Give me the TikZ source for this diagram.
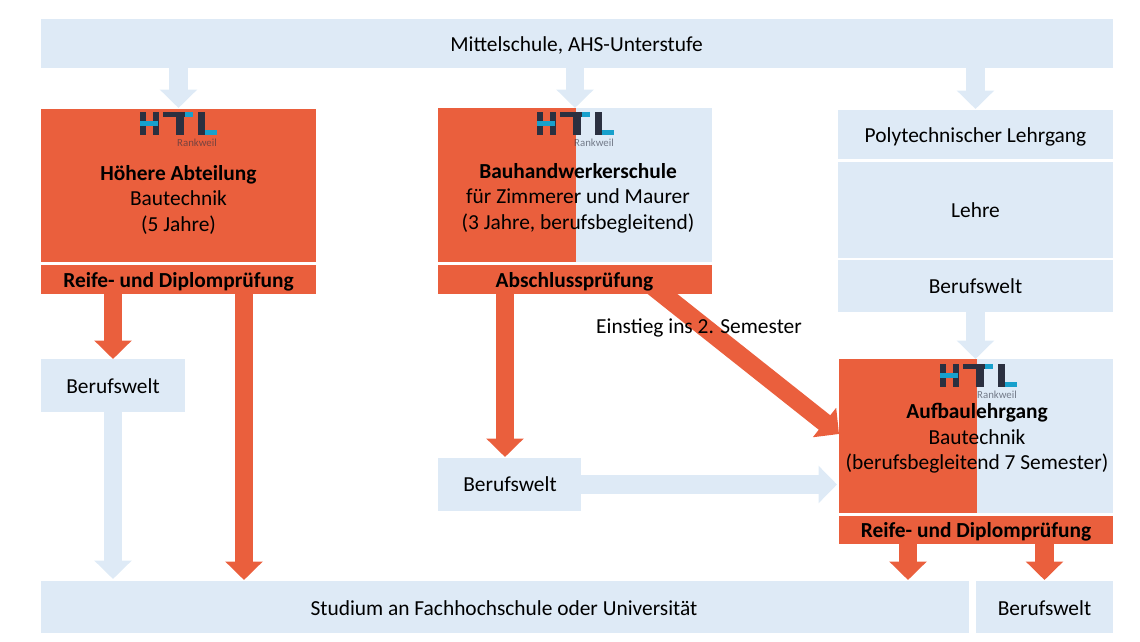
\documentclass[tikz,border=0pt]{standalone}
\usepackage{fontspec}
\setmainfont{Carlito}
\usetikzlibrary{arrows.meta,calc,backgrounds}
\definecolor{lightb}{HTML}{DEEAF6}
\definecolor{orng}{HTML}{EA5F3D}
\definecolor{logodark}{HTML}{2B3040}
\definecolor{logoblue}{HTML}{17A0CC}
\tikzset{
  x=1pt,y=-1pt,
  boxl/.style={fill=lightb,inner sep=0pt,outer sep=0pt},
  boxo/.style={fill=orng,inner sep=0pt,outer sep=0pt},
  txt/.style={inner sep=0pt,font=\fontsize{21.4}{25.5}\selectfont,align=center,text=black},
  arl/.style={draw=lightb,line width=18.5pt,-{Triangle[length=18.5pt,width=36.5pt]}},
  aro/.style={draw=orng,line width=18.5pt,-{Triangle[length=18.5pt,width=36.5pt]}},
}
\newcommand{\rct}[6]{%
  \node[#1,minimum width=#3pt-#2pt,minimum height=#5pt-#4pt] (#6) at (#2/2+#3/2,#4/2+#5/2) {};}
\newcommand{\logo}[2]{%
\begin{scope}[shift={(#1,#2)}]
 \fill[logodark] (0,0) rectangle (5.5,23);
 \fill[logodark] (13,0) rectangle (18.5,23);
 \fill[logoblue] (0,9) rectangle (18,13.5);
 \fill[logodark] (23,0) rectangle (45,5);
 \fill[logoblue] (45,0) rectangle (53,5);
 \fill[logodark] (36,0) rectangle (44,23);
 \fill[logodark] (58,0) rectangle (65,23);
 \fill[logoblue] (65,18) rectangle (77,23);
 \node[inner sep=0pt,text=logodark,text opacity=.6,font=\fontsize{10.8}{11}\selectfont,anchor=base east] (lg#1) at (77,34) {Rankweil};
\end{scope}}
\begin{document}
\begin{tikzpicture}
\useasboundingbox (0,0) rectangle (1140,642);
\rct{boxl}{41}{1113}{19}{68}{top}
\rct{boxo}{41}{316}{109}{262}{hoe}
\rct{boxo}{41}{316}{265}{294}{hprue}
\rct{boxl}{438}{712}{108}{262}{bau}
\rct{boxo}{438}{576}{108}{262}{bauo}
\rct{boxo}{438}{712}{265}{294}{abs}
\rct{boxl}{838}{1113}{110}{159}{poly}
\rct{boxl}{838}{1113}{162}{258}{lehre}
\rct{boxl}{838}{1113}{260}{312}{bw3}
\rct{boxl}{839}{1113}{359}{513}{auf}
\rct{boxo}{839}{977}{359}{513}{aufo}
\rct{boxo}{839}{1113}{516}{544}{rprue}
\rct{boxl}{41}{969}{581}{633}{stud}
\rct{boxl}{976}{1113}{581}{633}{bw4}
\rct{boxl}{41}{185}{359}{412}{bw1}
\rct{boxl}{438}{581}{458}{511}{bw2}
% connectors
\draw[arl,shorten >=1pt] (hoe.north |- top.south) -- (hoe.north);
\draw[arl] (bau.north |- top.south) -- (bau.north);
\draw[arl,shorten >=1pt] (poly.north |- top.south) -- (poly.north);
\draw[arl] (bw3.south) -- (bw3.south |- auf.north);
\draw[aro] (bw1.north |- hprue.south) -- (bw1.north);
\draw[arl,shorten >=2pt] (bw1.south) -- (bw1.south |- stud.north);
\draw[aro,shorten >=1pt] ([xshift=65.5pt]hprue.south) -- ([xshift=65.5pt]hprue.south |- stud.north);
\draw[aro,shorten >=1pt] ([xshift=-70pt]abs.south) -- ([xshift=-4.5pt]bw2.north);
\draw[arl,shorten >=2pt] (bw2.east) -- (bw2.east -| aufo.west);
\begin{scope}[on background layer]
\draw[aro,shorten <=-15pt] ([xshift=87.5pt]abs.south) -- ([yshift=2pt]aufo.west);
\end{scope}
\draw[aro,shorten >=1pt] ([xshift=-68pt]rprue.south) -- ([xshift=-68pt]rprue.south |- stud.north);
\draw[aro,shorten >=1pt] (bw4.north |- rprue.south) -- (bw4.north);
% texts
\node[txt] (t1) at (576.5,45.5) {Mittelschule, AHS-Unterstufe};
\node[txt] (t2) at (178.5,199.5) {\textbf{Höhere Abteilung}\\Bautechnik\\(5 Jahre)};
\node[txt] (t3) at (178.5,281.5) {\textbf{Reife- und Diplomprüfung}};
\node[txt] (t4) at (578,198) {\textbf{Bauhandwerkerschule}\\für Zimmerer und Maurer\\(3 Jahre, berufsbegleitend)};
\node[txt] (t5) at (574.5,281.5) {\textbf{Abschlussprüfung}};
\node[txt] (t6) at (975.5,136.5) {Polytechnischer Lehrgang};
\node[txt] (t7) at (975.5,210.5) {Lehre};
\node[txt] (t8) at (975.5,286.5) {Berufswelt};
\node[txt] (t9) at (977,438.5) {\textbf{Aufbaulehrgang}\\Bautechnik\\(berufsbegleitend 7 Semester)};
\node[txt] (t10) at (976,532) {\textbf{Reife- und Diplomprüfung}};
\node[txt] (t11) at (504,608) {Studium an Fachhochschule oder Universität};
\node[txt] (t12) at (1044.5,608) {Berufswelt};
\node[txt] (t13) at (113,386.5) {Berufswelt};
\node[txt] (t14) at (510,484.5) {Berufswelt};
\node[txt] (t15) at (699,327.5) {Einstieg ins 2. Semester};
\logo{140}{112}
\logo{537}{112}
\logo{940}{364}
\end{tikzpicture}
\end{document}
